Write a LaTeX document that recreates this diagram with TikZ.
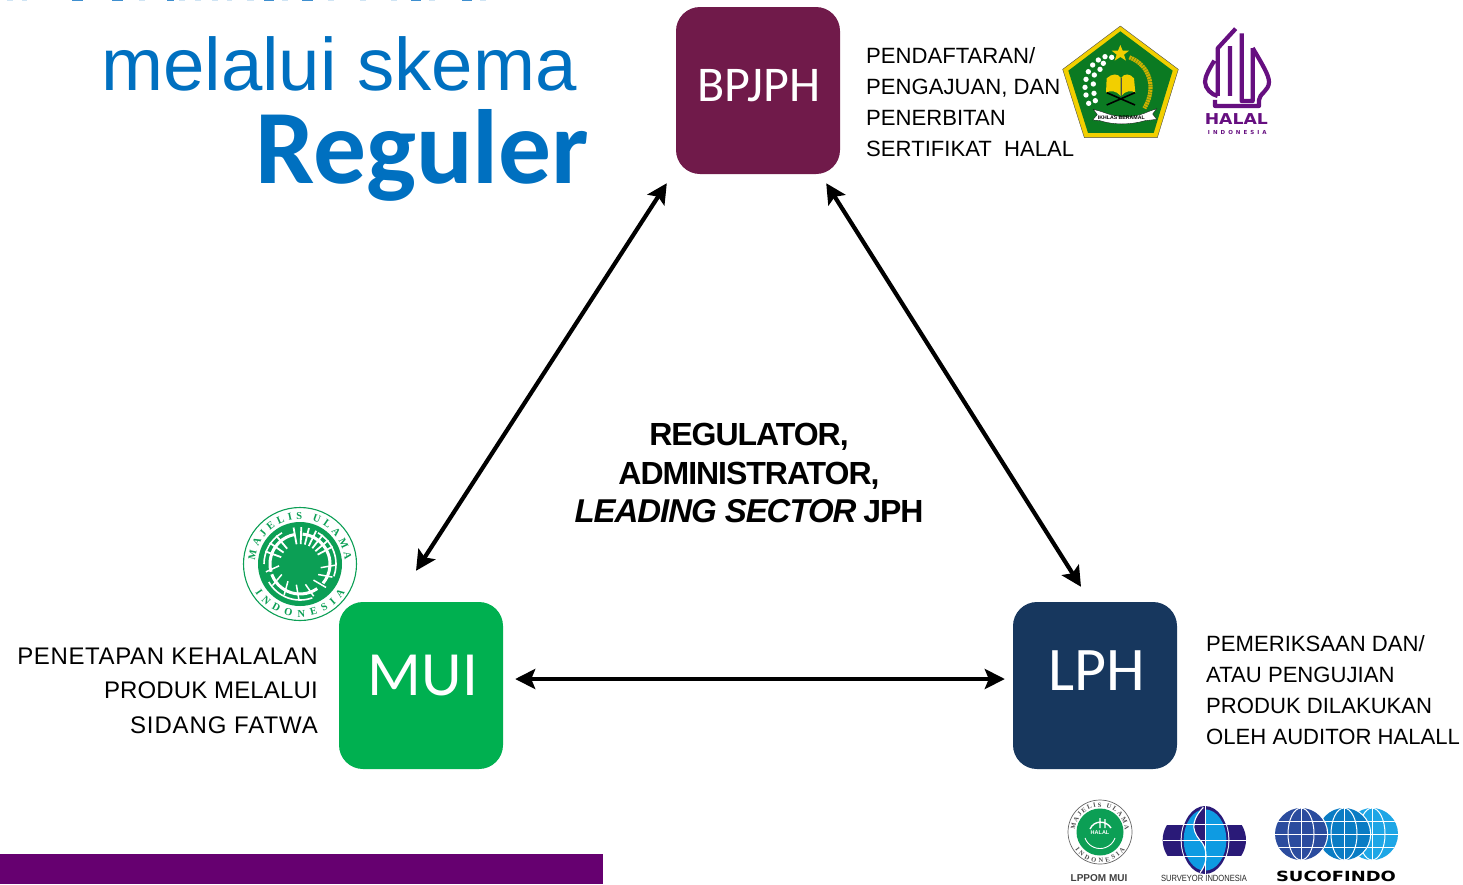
\documentclass[tikz,border=0pt]{standalone}
\usepackage{fontspec}
\setmainfont{Liberation Sans}
\newfontfamily\calibrilike{Carlito}
\newfontfamily\seriflike{Liberation Serif}
\newfontfamily\widelike{DejaVu Sans}
\usetikzlibrary{arrows.meta,decorations.text}
\definecolor{titleblue}{HTML}{0070C0}
\definecolor{boxplum}{HTML}{701A4A}
\definecolor{boxgreen}{HTML}{00B050}
\definecolor{boxnavy}{HTML}{17375E}
\definecolor{barpurple}{HTML}{660070}
\definecolor{lightsliver}{HTML}{CFE4F4}
\definecolor{darksliver}{HTML}{3F8FCF}
\definecolor{kgreen}{HTML}{0B7A22}
\definecolor{kyellow}{HTML}{F2CF00}
\definecolor{hpurple}{HTML}{660F80}
\definecolor{mgreen}{HTML}{0C9F55}
\definecolor{snavy}{HTML}{2A1A78}
\definecolor{sblue}{HTML}{0E9BE2}
\definecolor{gdark}{HTML}{2B4C9E}
\definecolor{gmid}{HTML}{0A7CC4}
\definecolor{glight}{HTML}{1EA6E6}
\tikzset{
  x=1pt,y=-1pt,
  agency/.style={rectangle,rounded corners=24pt,minimum width=164pt,minimum height=167pt,inner sep=0pt,text=white,font=\calibrilike\fontsize{62}{62}\selectfont},
  link/.style={line width=4.2pt,black,{Stealth[length=20pt,width=20pt,inset=4pt]}-{Stealth[length=20pt,width=20pt,inset=4pt]}},
  caption/.style={inner sep=0pt,font=\fontsize{22.1}{31}\selectfont},
  capleft/.style={inner sep=0pt,font=\fontsize{24}{34.5}\selectfont},
  lead/.style={inner sep=0pt,font=\bfseries\fontsize{32}{38.5}\selectfont\addfontfeature{LetterSpace=-3.2}},
  logotext/.style={inner sep=0pt,anchor=base},
  zoomA/.style={shift={(1050,10)},x=.3333pt,y=-.3333pt},
  zoomB/.style={shift={(1195,20)},x=.3333pt,y=-.3333pt},
  zoomC/.style={shift={(1150,800)},x=.3333pt,y=-.3333pt},
}
\newcommand{\myglobe}[4]{% cx cy r colour
  \begin{scope}[shift={(#1,#2)},x=1pt,y=1pt]
    \fill[white] (0,0) circle (#3+1.2);
    \fill[#4] (0,0) circle (#3);
    \begin{scope}
      \clip (0,0) circle (#3);
      \draw[white,line width=1pt] (0,0) ellipse ({.5*#3} and #3);
      \draw[white,line width=1pt] (0,-#3) -- (0,#3);
      \draw[white,line width=1pt] (-#3,0) -- (#3,0);
      \draw[white,line width=1pt] (-#3,{.5*#3}) -- (#3,{.5*#3});
      \draw[white,line width=1pt] (-#3,{-.5*#3}) -- (#3,{-.5*#3});
    \end{scope}
  \end{scope}}
\begin{document}
\begin{tikzpicture}
\useasboundingbox (0,0) rectangle (1463,884);
\fill[white] (0,0) rectangle (1463,884);
% slivers of a heading cut off by the top edge
\foreach \a/\b in {7/13,22/27,139/145,179/185,195/201,212/218,227/232,247/254,282/288,328/334,360/366,391/397,429/435,480/486}
  \fill[lightsliver] (\a,0) rectangle (\b,.8);
\foreach \a/\b in {72/83,112/123,167/174,264/274,302/313,411/421,462/472}
  \fill[darksliver] (\a,0) rectangle (\b,1);
% title
\node[inner sep=0pt,anchor=base west,text=titleblue,font=\fontsize{74.4}{74}\selectfont] (title1) at (101,90) {melalui skema};
\node[inner sep=0pt,anchor=base west,text=titleblue,font=\calibrilike\bfseries\fontsize{105.5}{105}\selectfont] (title2) at (255,183) {Reguler};
% bar
\fill[barpurple] (0,854) rectangle (603,884);
% agencies
\node[agency,fill=boxplum,font=\calibrilike\fontsize{50}{50}\selectfont] (bpjph) at (758,90.5) {\hspace*{2pt}\raisebox{5pt}[\height][\depth]{BPJPH}};
\node[agency,fill=boxgreen,font=\calibrilike\fontsize{63}{63}\selectfont] (mui) at (421,685.5) {\hspace*{4pt}\raisebox{10pt}[\height][\depth]{MUI}};
\node[agency,fill=boxnavy] (lph) at (1095,685.5) {\hspace*{3pt}\raisebox{15pt}[\height][\depth]{LPH}};
% connectors
\draw[link] ([xshift=-9pt,yshift=-9pt]bpjph.south west) -- ([xshift=-5pt,yshift=31pt]mui.north);
\draw[link] ([xshift=-14pt,yshift=-9pt]bpjph.south east) -- ([xshift=-14pt,yshift=15pt]lph.north);
\draw[link] ([xshift=12pt,yshift=6.5pt]mui.east) -- ([xshift=-8pt,yshift=6.5pt]lph.west);
% captions
\node[caption,anchor=north west,align=left] (capbp) at (866,47.5) {PENDAFTARAN/\\PENGAJUAN, DAN\\PENERBITAN\\SERTIFIKAT\ \ HALAL};
\node[capleft,anchor=north east,align=right] (capmui) at (318,647.5) {{\addfontfeature{LetterSpace=2.6}PENETAPAN KEHALALAN}\\{\addfontfeature{LetterSpace=.6}PRODUK MELALUI}\\{\addfontfeature{LetterSpace=3.8}SIDANG FATWA}};
\node[caption,anchor=north west,align=left] (caplph) at (1206,635.5) {PEMERIKSAAN DAN/\\ATAU PENGUJIAN\\PRODUK DILAKUKAN\\OLEH AUDITOR HALALL};
\node[lead,anchor=north,align=center] (leadtext) at (749,423) {REGULATOR,\\ADMINISTRATOR,\\{\fontsize{33}{38.5}\selectfont\textit{LEADING SECTOR}} JPH};
% Kemenag emblem
\begin{scope}[zoomA]
  \fill[kyellow,draw=black!70,line width=.4pt] (211,48)--(385,178)--(322,383)--(103,383)--(38,178)--cycle;
  \fill[kgreen] (211,64)--(368,182)--(311,369)--(114,369)--(55,182)--cycle;
  \fill[kyellow] (211,105)--(218,122)--(237,122)--(222,134)--(228,152)--(211,141)--(194,152)--(200,134)--(185,122)--(204,122)--cycle;
  \foreach \p in {(185,142),(165,140),(145,150),(128,165),(115,185),(133,195),(108,208),(130,222),(105,232),(132,250),(108,255),(136,272),(116,280),(160,160),(150,178)}
    \fill[white] \p circle (8);
  \draw[kyellow!85!black,line width=4.2pt,dash pattern=on 2pt off .6pt] (238,142) .. controls (300,165) and (320,235) .. (283,295);
  \fill[kyellow] (170,205) .. controls (185,190) and (205,190) .. (212,203) -- (212,258) .. controls (200,242) and (180,240) .. (168,248) -- cycle;
  \fill[kyellow] (252,205) .. controls (240,190) and (222,190) .. (214,203) -- (214,258) .. controls (225,242) and (245,240) .. (256,248) -- cycle;
  \draw[black!70,line width=.4pt] (213,203) -- (213,258);
  \draw[black,line width=1.6pt] (170,285) -- (255,248) (170,248) -- (255,285);
  \fill[white,draw=black,line width=.3pt] (130,298) -- (155,305) .. controls (205,325) and (250,325) .. (295,305) -- (320,296) -- (308,312) -- (320,328) -- (285,332) .. controls (240,345) and (190,345) .. (150,332) -- (128,330) -- (142,314) -- cycle;
  \node[logotext,font=\bfseries\fontsize{5.2}{5}\selectfont,text=black] (ikhlas) at (214,330) {IKHLAS BERAMAL};
\end{scope}
% Halal Indonesia mark
\begin{scope}[zoomB]
  \draw[hpurple,line width=4.2pt,line join=round]
    (122,26) -- (68,85) -- (68,228)
    (58,122) .. controls (42,148) and (30,170) .. (30,186) .. controls (30,205) and (50,225) .. (68,228)
    (105,78) -- (105,228) (140,40) -- (140,243) -- (173,243) -- (173,84);
  \draw[hpurple,line width=4.2pt,line join=round]
    (173,84) .. controls (200,130) and (222,165) .. (222,186) .. controls (222,212) and (192,222) .. (192,240) -- (192,258) -- (60,258) -- (60,240);
  \node[logotext,text=hpurple,xscale=1.15,font=\widelike\bfseries\fontsize{15}{15}\selectfont] (halaltxt) at (124,315) {HALAL};
  \node[logotext,text=hpurple,font=\widelike\bfseries\fontsize{5.5}{5.5}\selectfont\addfontfeature{LetterSpace=55}] (halalsub) at (127,345) {INDONESIA};
\end{scope}
% MUI seal
\begin{scope}[shift={(300,564)},x=1pt,y=1pt]
  \draw[mgreen,line width=1.1pt] (0,0) circle (56.5);
  \fill[mgreen] (0,0) circle (42);
  \path[decorate,decoration={text along path,text align=fit to path,text format delimiters={|}{|},
     text={|\seriflike\bfseries\fontsize{10.5}{10}\selectfont\color{mgreen}|MAJELIS ULAMA}}] (175:45) arc (175:5:45);
  \path[decorate,decoration={text along path,text align=fit to path,text format delimiters={|}{|},
     text={|\seriflike\bfseries\fontsize{10.5}{10}\selectfont\color{mgreen}|INDONESIA}}] (212:53) arc (212:328:53);
  \draw[white,line width=3pt] (195:30) arc (195:100:30) (85:30) arc (85:-40:30) (-55:30) arc (-55:-160:30);
  \draw[white,line width=1.6pt] (180:36) arc (180:120:36) (60:36) arc (60:-20:36) (-70:36) arc (-70:-150:36);
  \foreach \t in {100,88,76,64,52,40,28,130,145,160}
    \draw[white,line width=1.8pt] (\t:20) -- (\t:37);
  \foreach \t in {-10,-30,-50,-75,-100,-125,-150,-175}
    \draw[white,line width=1.5pt] (\t:21) -- (\t+8:35);
  \fill[mgreen] (0,0) circle (14);
\end{scope}
% LPPOM seal
\begin{scope}[shift={(1100,832)},x=1pt,y=1pt]
  \draw[black!60,line width=.7pt] (0,0) circle (32);
  \fill[mgreen] (0,0) circle (23.5);
  \path[decorate,decoration={text along path,text align=fit to path,text format delimiters={|}{|},
     text={|\seriflike\bfseries\fontsize{6.5}{6.5}\selectfont\color{black!70}|MAJELIS ULAMA}}] (175:25) arc (175:5:25);
  \path[decorate,decoration={text along path,text align=fit to path,text format delimiters={|}{|},
     text={|\seriflike\bfseries\fontsize{6.5}{6.5}\selectfont\color{black!70}|INDONESIA}}] (215:30.5) arc (215:325:30.5);
  \node[logotext,text=white,font=\bfseries\fontsize{5.5}{5.5}\selectfont] (lppomhalal) at (0,-2) {HALAL};
  \draw[white,line width=1.4pt] (-10,3) .. controls (-6,12) and (6,12) .. (11,4) (0,4) -- (0,14) (5,4) -- (5,13);
  \draw[white,line width=.9pt] (-15,-6) arc (200:340:16);
\end{scope}
\node[logotext,text=black!75,font=\bfseries\fontsize{10}{10}\selectfont] (lppomtxt) at (1099,881) {LPPOM MUI};
% Surveyor Indonesia mark
\begin{scope}[zoomC]
  \begin{scope}
    \clip (30,72) rectangle (296,168);
    \fill[snavy] (163,120) ellipse (125 and 102);
  \end{scope}
  \fill[white] (165,120) ellipse (73 and 104);
  \fill[snavy] (165,120) ellipse (70 and 102);
  \begin{scope}
    \clip (165,120) ellipse (64 and 92);
    \fill[sblue] (167,18) rectangle (240,222);
    \fill[sblue] (160,22) .. controls (115,70) and (130,100) .. (158,130) .. controls (178,165) and (165,200) .. (150,218) -- (60,218) -- (60,22) -- cycle;
  \end{scope}
  \draw[white,line width=.9pt] (38,72) -- (288,72) (38,120) -- (288,120) (38,168) -- (288,168) (165,18) -- (165,222);
  \draw[white,line width=1.1pt] (160,22) .. controls (115,70) and (130,100) .. (158,130) .. controls (178,165) and (165,200) .. (150,218);
\end{scope}
\node[logotext,text=black!85,xscale=.84,font=\fontsize{9}{9}\selectfont] (surveyortxt) at (1204,881) {SURVEYOR INDONESIA};
% Sucofindo mark
\myglobe{1372}{834}{26}{glight}
\myglobe{1344}{834}{26}{gmid}
\myglobe{1301}{834}{26}{gdark}
\node[logotext,text=black,xscale=1.28,font=\widelike\bfseries\fontsize{14}{14}\selectfont] (sucotxt) at (1336,881) {SUCOFINDO};
\end{tikzpicture}
\end{document}
